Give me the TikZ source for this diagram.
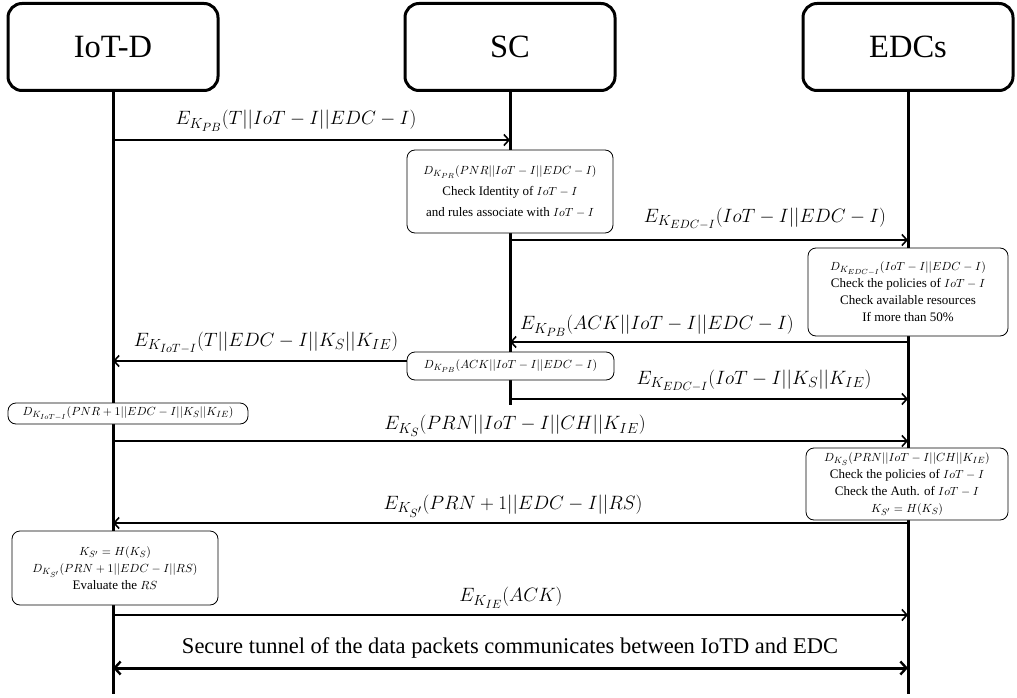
\RequirePackage{fix-cm}
\documentclass[tikz,border=0pt]{standalone}
\usepackage{fontspec}
\setmainfont{Liberation Serif}
\usetikzlibrary{arrows.meta}
\makeatletter
\def\defaultscriptratio{.76}
\def\defaultscriptscriptratio{.62}
\makeatother
\DeclareMathSizes{13}{11.8}{9}{7.4}
\tikzset{
  actor/.style={draw, line width=3pt, rounded corners=14pt, minimum width=210pt, minimum height=87pt, font=\fontsize{32.5}{38}\selectfont},
  note/.style={draw, line width=0.8pt, rounded corners=8pt, fill=white, align=center, font=\fontsize{13}{17}\selectfont, inner sep=2pt},
  life/.style={line width=3pt},
  msg/.style={line width=1.8pt, -{Straight Barb[length=5pt,width=11pt,line width=1.6pt]}},
  lbl/.style={font=\fontsize{19.3}{22}\selectfont, inner sep=0pt},
  tunnel/.style={line width=3pt, {Straight Barb[length=6pt,width=13pt,line width=2.4pt]}-{Straight Barb[length=6pt,width=13pt,line width=2.4pt]}}
}
\begin{document}
\begin{tikzpicture}[x=1pt,y=-1pt]
\useasboundingbox (0,0) rectangle (1017,698);
% actors
\node[actor] (iot) at (113,47) {IoT-D};
\node[actor] (sc) at (510,47) {SC};
\node[actor] (edc) at (908,47) {EDCs};
\coordinate (iotB) at (113,694);
\coordinate (scB) at (510,405);
\coordinate (edcB) at (908,694);
\draw[life] (iot.south) -- (iotB);
\draw[life] (sc.south) -- (scB);
\draw[life] (edc.south) -- (edcB);

% endpoints
\coordinate (i1) at (113,140); \coordinate (s1) at (510,140);
\coordinate (s3) at (510,240); \coordinate (e3) at (908,240);
\coordinate (e5) at (908,342); \coordinate (s5) at (510,342);
\coordinate (s7) at (510,361); \coordinate (i7) at (113,361);
\coordinate (s8) at (510,399); \coordinate (e8) at (908,399);
\coordinate (i10) at (113,441); \coordinate (e10) at (908,441);
\coordinate (e12) at (908,523); \coordinate (i12) at (113,523);
\coordinate (i14) at (113,615); \coordinate (e14) at (908,615);
\coordinate (i15) at (113,668); \coordinate (e15) at (908,668);

% messages
\draw[msg] (i1) -- (s1);
\node[lbl] (l1) at (296,121) {$E_{K_{PB}}(T||IoT-I||EDC-I)$};

\draw[msg] (s3) -- (e3);
\node[lbl] (l3) at (765,219) {$E_{K_{EDC-I}}(IoT-I||EDC-I)$};

\draw[msg] (e5) -- (s5);
\node[lbl] (l5) at (657,326) {$E_{K_{PB}}(ACK||IoT-I||EDC-I)$};

\draw[msg] (s7) -- (i7);
\node[lbl] (l7) at (266,343) {$E_{K_{IoT-I}}(T||EDC-I||K_S||K_{IE})$};

\draw[msg] (s8) -- (e8);
\node[lbl] (l8) at (754,381) {$E_{K_{EDC-I}}(IoT-I||K_S||K_{IE})$};

\draw[msg] (i10) -- (e10);
\node[lbl] (l10) at (515,426) {$E_{K_S}(PRN||IoT-I||CH||K_{IE})$};

\draw[msg] (e12) -- (i12);
\node[lbl] (l12) at (513,506) {$E_{K_{S'}}(PRN+1||EDC-I||RS)$};

\draw[msg] (i14) -- (e14);
\node[lbl] (l14) at (511,598) {$E_{K_{IE}}(ACK)$};

\draw[tunnel] (i15) -- (e15);
\node[lbl, font=\fontsize{22.5}{26}\selectfont] (l15) at (510,648) {Secure tunnel of the data packets communicates between IoTD and EDC};

% notes
\node[note, minimum width=206pt, minimum height=83pt, font=\fontsize{13}{21}\selectfont] (n1) at (510,191.5)
  {$D_{K_{PR}}(PNR||IoT-I||EDC-I)$\\ Check Identity of $IoT-I$\\ and rules associate with $IoT-I$};
\node[note, minimum width=200pt, minimum height=88pt] (n2) at (908,292)
  {$D_{K_{EDC-I}}(IoT-I||EDC-I)$\\ Check the policies of $IoT-I$\\ Check available resources\\ If more than 50\%};
\node[note, minimum width=207pt, minimum height=28pt] (n3) at (510.5,366)
  {$D_{K_{PB}}(ACK||IoT-I||EDC-I)$};
\node[note, minimum width=240pt, minimum height=21pt] (n4) at (128,413.5)
  {$D_{K_{IoT-I}}(PNR+1||EDC-I||K_S||K_{IE})$};
\node[note, minimum width=202pt, minimum height=72pt] (n5) at (907,484)
  {$D_{K_S}(PRN||IoT-I||CH||K_{IE})$\\ Check the policies of $IoT-I$\\ Check the Auth. of $IoT-I$\\ $K_{S'}=H(K_S)$};
\node[note, minimum width=206pt, minimum height=74pt] (n6) at (115,568)
  {$K_{S'}=H(K_S)$\\ $D_{K_{S'}}(PRN+1||EDC-I||RS)$\\ Evaluate the $RS$};
\end{tikzpicture}
\end{document}
